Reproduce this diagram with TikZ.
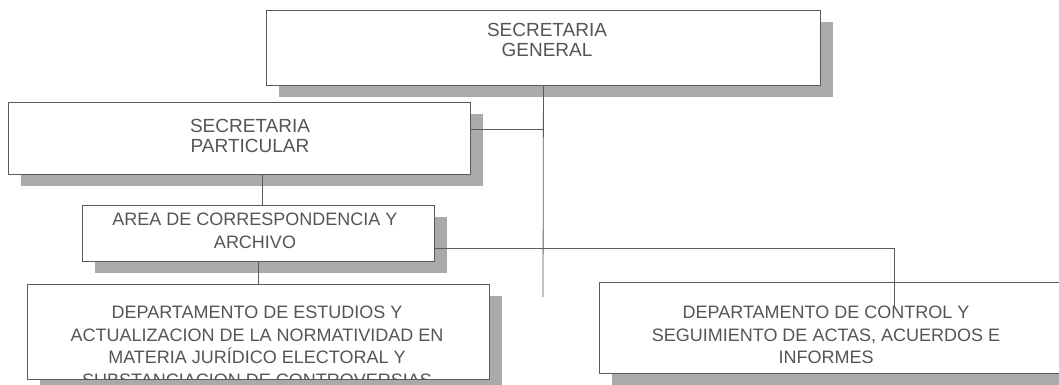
\documentclass[tikz,border=0pt]{standalone}
\usepackage{fontspec}
\setmainfont{Liberation Sans}
\usetikzlibrary{calc,shadows}
\definecolor{ink}{HTML}{555555}
\definecolor{edge}{HTML}{5A5A5A}
\definecolor{shade}{HTML}{AAAAAA}
\begin{document}
\begin{tikzpicture}[x=1pt,y=-1pt,
  box/.style={draw=edge, line width=0.9pt, fill=white, rectangle, inner sep=0pt, anchor=north west,
    drop shadow={shadow xshift=13pt, shadow yshift=-12pt, fill=shade, opacity=1}},
  txt/.style={text=ink, align=center, inner sep=0pt, anchor=north},
  big/.style={font=\fontsize{19}{20.5}\selectfont},
  norm/.style={font=\fontsize{18}{22.5}\selectfont},
  link/.style={draw=edge, line width=0.8pt}]
\clip (0,0) rectangle (1059,385);
\fill[white] (0,0) rectangle (1059,385);
% boxes
\node[box, minimum width=554pt, minimum height=75pt] (gen) at (266,10) {};
\node[box, minimum width=462pt, minimum height=72pt] (partic) at (8,102) {};
\node[box, minimum width=352pt, minimum height=56pt] (area) at (82,205) {};
\node[box, minimum width=462pt, minimum height=95pt] (dept1) at (27,284) {};
\node[box, minimum width=465pt, minimum height=91pt] (dept2) at (599,282) {};
% texts
\node[txt, big] (tgen) at (547,23) {SECRETARIA\\GENERAL};
\node[txt, big] (tpartic) at (250,119) {SECRETARIA\\PARTICULAR};
\node[txt, norm] (tarea) at (255,213) {AREA DE CORRESPONDENCIA Y\\ARCHIVO};
\begin{scope}
\clip (dept1.north west) rectangle (dept1.south east);
\node[txt, norm] (tdept1) at (257,306) {DEPARTAMENTO DE ESTUDIOS Y\\ACTUALIZACION DE LA NORMATIVIDAD EN\\MATERIA JURÍDICO ELECTORAL Y\\SUBSTANCIACION DE CONTROVERSIAS};
\end{scope}
\node[txt, norm] (tdept2) at (826,306) {DEPARTAMENTO DE CONTROL Y\\SEGUIMIENTO DE ACTAS, ACUERDOS E\\INFORMES};
% connectors
\coordinate (vend) at (543,297);
\coordinate (pj) at (543,129);
\coordinate (ar) at (894,248);
\coordinate (d2j) at (894,307);
\coordinate (pa) at ([xshift=4pt]area.north);
\draw[link] (gen.south) -- (vend);
\draw[link] (partic.east |- pj) -- (pj);
\draw[link] (pa) -- (pa |- partic.south);
\draw[link] (area.east |- ar) -- (ar) -- (d2j);
\draw[link] (area.south) -- (dept1.north);
\end{tikzpicture}
\end{document}
